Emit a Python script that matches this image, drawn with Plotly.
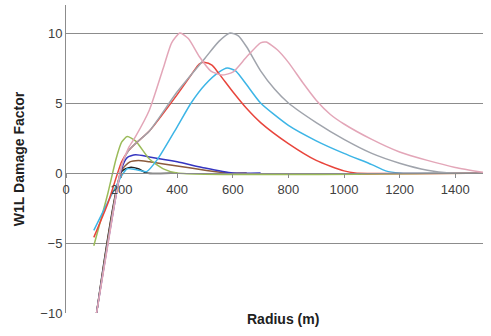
import plotly.graph_objects as go

x_pink = [110, 150, 200, 225, 250, 300, 350, 380, 410, 440, 480, 520, 560, 600, 650, 700, 720, 760, 800, 850, 900, 950, 1000, 1100, 1200, 1300, 1400, 1500]
y_pink = [-10, -5.2, 0.5, 1.8, 2.6, 4.5, 7.5, 9.3, 10.0, 9.6, 8.3, 7.3, 7.0, 7.2, 8.3, 9.3, 9.35, 8.8, 7.9, 6.5, 5.2, 4.2, 3.5, 2.4, 1.5, 0.9, 0.4, 0.05]

x_gray = [110, 200, 225, 250, 300, 400, 500, 550, 590, 620, 650, 700, 750, 800, 900, 1000, 1100, 1200, 1300, 1380, 1500]
y_gray = [-10, 0.5, 1.6, 2.1, 3.0, 5.8, 8.2, 9.4, 10.0, 9.8, 9.0, 7.3, 6.0, 5.0, 3.6, 2.4, 1.4, 0.7, 0.2, 0.0, 0.0]

x_red = [100, 150, 200, 225, 250, 300, 400, 450, 480, 500, 525, 550, 600, 650, 700, 800, 900, 1000, 1040, 1500]
y_red = [-4.6, -2.2, 0.8, 1.6, 2.1, 3.0, 5.6, 7.0, 7.8, 7.9, 7.7, 7.1, 5.8, 4.6, 3.6, 2.1, 0.9, 0.15, 0.0, 0.0]

x_cyan = [100, 150, 200, 220, 250, 290, 330, 400, 450, 500, 550, 580, 610, 650, 700, 800, 900, 1000, 1100, 1150, 1200, 1500]
y_cyan = [-4.1, -2.1, -0.2, 0.3, 0.25, 0.1, 1.0, 3.3, 5.0, 6.3, 7.2, 7.5, 7.3, 6.3, 5.0, 3.4, 2.3, 1.4, 0.6, 0.15, 0.0, 0.0]

x_green = [100, 150, 180, 200, 220, 250, 300, 350, 400, 1500]
y_green = [-5.2, -1.5, 1.0, 2.2, 2.6, 2.3, 1.0, 0.3, 0.0, 0.0]

x_blue = [110, 200, 220, 250, 300, 400, 500, 600, 700]
y_blue = [-10, 0.3, 1.1, 1.3, 1.15, 0.8, 0.35, 0.0, 0.0]

x_brown = [110, 200, 230, 260, 300, 400, 500, 580, 650]
y_brown = [-10, 0.2, 0.8, 0.9, 0.8, 0.5, 0.2, 0.0, 0.0]

x_black = [110, 200, 230, 260, 290, 400]
y_black = [-10, 0.1, 0.4, 0.3, 0.0, 0.0]

series = [
    (x_black, y_black, "#202020"),
    (x_brown, y_brown, "#8B5A3C"),
    (x_blue, y_blue, "#3535C0"),
    (x_green, y_green, "#9BBB59"),
    (x_cyan, y_cyan, "#3DB5E6"),
    (x_red, y_red, "#E8453C"),
    (x_gray, y_gray, "#A0A4AC"),
    (x_pink, y_pink, "#E3A6B8"),
]

fig = go.Figure()
for xs, ys, c in series:
    fig.add_trace(go.Scatter(x=xs, y=ys, mode="lines",
                             line=dict(color=c, width=1.5, shape="spline", smoothing=0.6),
                             showlegend=False, hoverinfo="skip"))

fig.update_layout(
    width=491, height=336,
    margin=dict(l=66, r=8, t=5, b=23),
    plot_bgcolor="white", paper_bgcolor="white",
    font=dict(family="Liberation Sans, Arial, sans-serif", size=13, color="#404040"),
    xaxis=dict(range=[0, 1500], tickvals=[0, 200, 400, 600, 800, 1000, 1200, 1400],
               showgrid=False, zeroline=False, showline=True, linecolor="#8c8c8c",
               anchor="free", position=10/22, ticks="outside", ticklen=4,
               tickcolor="#8c8c8c", tickfont=dict(size=13, color="#404040")),
    yaxis=dict(range=[-10, 12], tickvals=[-10, -5, 0, 5, 10],
               showgrid=True, gridcolor="#8c8c8c", gridwidth=1, zeroline=False,
               showline=True, linecolor="#8c8c8c", ticks="",
               tickfont=dict(size=13, color="#404040"),
               title=dict(text="<b>W1L Damage Factor</b>", font=dict(size=14, color="#202020"), standoff=12)),
    annotations=[dict(text="<b>Radius (m)</b>", x=0.52, y=0, xref="paper", yref="paper",
                      yshift=-16, showarrow=False, font=dict(size=14, color="#202020"))],
)
fig.write_html("out.html")
